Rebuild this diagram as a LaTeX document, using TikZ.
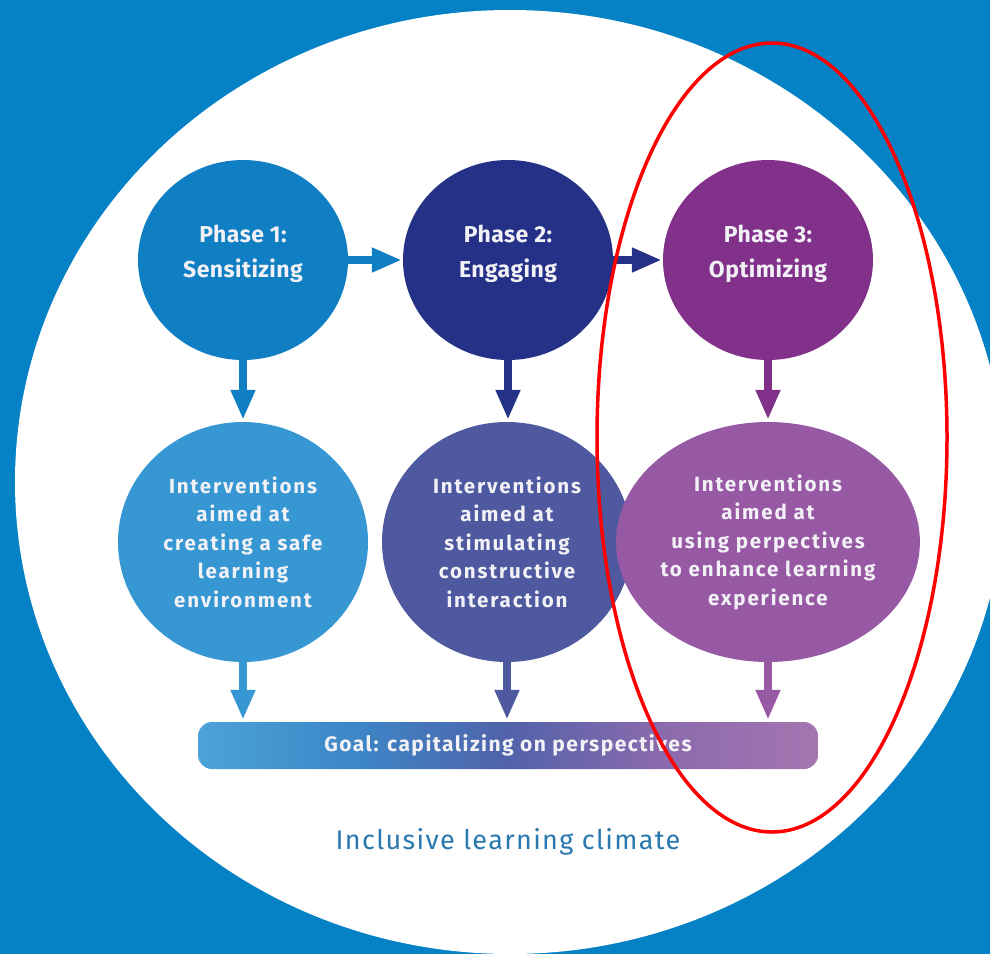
\documentclass[tikz,border=0pt]{standalone}
\usepackage{fontspec}
\setmainfont{Fira Sans}
\usetikzlibrary{shapes.geometric,arrows.meta}

% palette
\definecolor{bgblue}{HTML}{0581C6}
\definecolor{pA}{HTML}{0F7EC2}
\definecolor{pB}{HTML}{253087}
\definecolor{pC}{HTML}{82318B}
\definecolor{iA}{HTML}{3697D3}
\definecolor{iB}{HTML}{4E59A0}
\definecolor{iC}{HTML}{9859A4}
\definecolor{txt}{HTML}{F2F2F6}
\definecolor{climatetxt}{HTML}{2A78B0}
\definecolor{gA}{HTML}{4CA3D8}
\definecolor{gB}{HTML}{3C85C6}
\definecolor{gC}{HTML}{5162AA}
\definecolor{gD}{HTML}{8A6AAD}
\definecolor{gE}{HTML}{A575B0}

% left-to-right fill of the goal bar
\pgfdeclarehorizontalshading{goalshade}{100bp}{%
  color(0bp)=(gA); color(25bp)=(gA); color(38bp)=(gB);
  color(50bp)=(gC); color(62bp)=(gD); color(75bp)=(gE); color(100bp)=(gE)}

\begin{document}
\begin{tikzpicture}[x=1pt,y=-1pt,
  phase/.style={ellipse, minimum width=210pt, minimum height=200pt, inner sep=0pt},
  phasetext/.style={text=txt, align=center, inner sep=0pt,
    font=\bfseries\fontsize{23}{35}\selectfont\addfontfeature{LetterSpace=2}},
  interv/.style={ellipse, minimum width=250pt, minimum height=240pt, inner sep=0pt,
    text=txt, align=center,
    font=\bfseries\fontsize{20.5}{28.5}\selectfont\addfontfeature{LetterSpace=9}},
  flow/.style={line width=7.5pt, -{Triangle[width=23pt,length=30pt]}},
  goalbar/.style={rectangle, rounded corners=14pt, minimum width=620pt, minimum height=47pt,
    shading=goalshade, text=txt,
    font=\bfseries\fontsize{21}{24}\selectfont\addfontfeature{LetterSpace=7}},
  climate/.style={text=climatetxt,
    font=\fontsize{27}{30}\selectfont\addfontfeature{LetterSpace=5}}
]
\useasboundingbox (0,0) rectangle (990,954);
\fill[bgblue] (0,0) rectangle (990,954);
\fill[white] (510,482) ellipse [x radius=495, y radius=472];

% phase circles
\node[phase, fill=pA] (p1) at (243,260) {};
\node[phase, fill=pB] (p2) at (508,260) {};
\node[phase, fill=pC] (p3) at (768,260) {};
\node[phasetext] (p1t) at (243,254) {Phase 1:\\Sensitizing};
\node[phasetext] (p2t) at (508,254) {Phase 2:\\Engaging};
\node[phasetext] (p3t) at (768,254) {Phase 3:\\Optimizing};

% intervention circles
\node[interv, fill=iA] (i1) at (243,542) {Interventions\\aimed at\\creating a safe\\learning\\environment};
\node[interv, fill=iB] (i2) at (507,542) {Interventions\\aimed at\\stimulating\\constructive\\interaction};
\node[interv, fill=iC] (i3) at (768,542) {Interventions\\aimed at\\using perpectives\\to enhance learning\\experience};

% goal bar and caption
\node[goalbar] (goal) at (508,745.5) {Goal: capitalizing on perspectives};
\node[climate] (clim) at (508,842) {Inclusive learning climate};

% connectors
\draw[flow, pA, shorten >=1pt] (p1.east) -- (p2.west);
\draw[flow, pB, shorten >=1pt] (p2.east) -- (p3.west);
\draw[flow, pA, shorten >=2pt] (p1.south) -- (i1.north);
\draw[flow, pB, shorten >=2pt] (p2.south) -- (p2.south |- i2.north);
\draw[flow, pC, shorten >=2pt] (p3.south) -- (i3.north);
\draw[flow, iA, shorten >=2pt] (i1.south) -- (i1.south |- goal.north);
\draw[flow, iB, shorten >=2pt] (i2.south) -- (i2.south |- goal.north);
\draw[flow, iC, shorten >=2pt] (i3.south) -- (i3.south |- goal.north);

% red outline around the third column
\draw[red, line width=3.5pt] (772,437.5) ellipse [x radius=175, y radius=394.5];
\end{tikzpicture}
\end{document}
